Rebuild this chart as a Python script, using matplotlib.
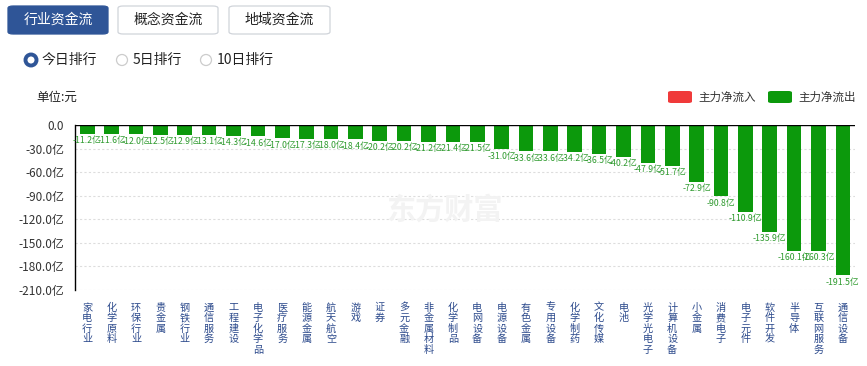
import numpy as np
import matplotlib.pyplot as plt
from matplotlib.patches import FancyBboxPatch, Ellipse

W, H = 867, 366

categories = ["家电行业", "化学原料", "环保行业", "贵金属", "钢铁行业", "通信服务", "工程建设",
              "电子化学品", "医疗服务", "能源金属", "航天航空", "游戏", "证券", "多元金融",
              "非金属材料", "化学制品", "电网设备", "电源设备", "有色金属", "专用设备", "化学制药",
              "文化传媒", "电池", "光学光电子", "计算机设备", "小金属", "消费电子", "电子元件",
              "软件开发", "半导体", "互联网服务", "通信设备"]
net_flow = [-11.2, -11.6, -12.0, -12.5, -12.9, -13.1, -14.3, -14.6, -17.0, -17.3, -18.0,
            -18.4, -20.2, -20.2, -21.2, -21.4, -21.5, -31.0, -33.6, -33.6, -34.2, -36.5,
            -40.2, -47.9, -51.7, -72.9, -90.8, -110.9, -135.9, -160.1, -160.3, -191.5]
y_ticks = [0, -30, -60, -90, -120, -150, -180, -210]

GREEN, RED, BLUE = "#0c990c", "#f03a3a", "#2f5597"
LABEL_GREEN = "#2e9a2e"
TICK_BLUE = "#2c4a8c"

plt.rcParams["font.family"] = ["Noto Sans CJK SC", "DejaVu Sans"]

fig = plt.figure(figsize=(W / 100, H / 100), dpi=100)
fig.patch.set_facecolor("white")


def fx(x):
    return x / W


def fy(y):
    return 1 - y / H


# axes: left edge at px 75, zero line at px 125, -210 at px 290
ax = fig.add_axes([fx(75), fy(290), fx(855) - fx(75), fy(125) - fy(290)])
x = np.arange(len(categories))
ax.bar(x, net_flow, width=0.6, color=GREEN, zorder=3)
ax.set_xlim(-0.5, len(categories) - 0.5)
ax.set_ylim(-210, 0)
ax.axhline(0, color="black", lw=1.0, zorder=4)

for xi, v in zip(x, net_flow):
    ax.text(xi, v - 8.5, f"{v:.1f}亿", ha="center", va="center", fontsize=6.3,
            color=LABEL_GREEN, clip_on=False, zorder=5)

ax.set_yticks(y_ticks)
ax.set_yticklabels(["0.0"] + [f"{t:.1f}亿" for t in y_ticks[1:]], fontsize=8.5, color="#333333")
ax.yaxis.grid(True, ls=(0, (2, 2)), color="#dddddd", lw=0.8, zorder=0)
ax.tick_params(axis="y", length=0, pad=8)
ax.set_xticks(x)
ax.set_xticklabels(["\n".join(c) for c in categories], fontsize=7.3, color=TICK_BLUE,
                   linespacing=1.07, va="top")
ax.tick_params(axis="x", length=0, pad=9)
for s in ["top", "right", "bottom"]:
    ax.spines[s].set_visible(False)
ax.spines["left"].set_color("black")
ax.spines["left"].set_linewidth(1.0)

# watermark
fig.text(fx(445), fy(210), "东方财富", fontsize=21, fontweight="bold", color="#f3f3f3",
         ha="center", va="center", zorder=0)

# tab buttons
tabs = [("行业资金流", 8, 108, True), ("概念资金流", 118, 218, False), ("地域资金流", 229, 330, False)]
for label, x0, x1, active in tabs:
    fig.add_artist(FancyBboxPatch((fx(x0), fy(34)), fx(x1 - x0), fy(6) - fy(34),
                                  boxstyle="round,pad=0,rounding_size=0.006",
                                  transform=fig.transFigure,
                                  facecolor=BLUE if active else "white",
                                  edgecolor=BLUE if active else "#d0d4da", lw=0.9))
    fig.text(fx((x0 + x1) / 2), fy(20), label, fontsize=10, ha="center", va="center",
             color="white" if active else "#222222")

# radio buttons
radios = [("今日排行", 31, True), ("5日排行", 122, False), ("10日排行", 206, False)]
for label, cx, on in radios:
    fig.add_artist(Ellipse((fx(cx), fy(60)), 11 / W, 11 / H, transform=fig.transFigure,
                           facecolor="white", edgecolor=BLUE if on else "#cccccc",
                           lw=2.8 if on else 0.9))
    fig.text(fx(cx + 11), fy(60), label, fontsize=10, ha="left", va="center", color="#222222")

fig.text(fx(36), fy(97), "单位:元", fontsize=9, ha="left", va="center", color="#222222")

# legend
for label, x0, color in [("主力净流入", 668, RED), ("主力净流出", 768, GREEN)]:
    fig.add_artist(FancyBboxPatch((fx(x0), fy(103)), fx(24), fy(91) - fy(103),
                                  boxstyle="round,pad=0,rounding_size=0.004",
                                  transform=fig.transFigure, facecolor=color, edgecolor="none"))
    fig.text(fx(x0 + 30), fy(97), label, fontsize=8.3, ha="left", va="center", color="#333333")

fig.savefig("out.png", dpi=100, facecolor="white")
